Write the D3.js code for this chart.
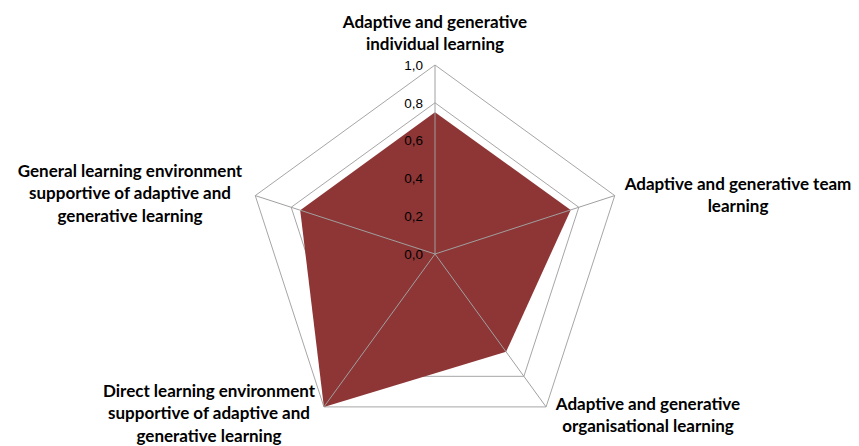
<!DOCTYPE html>
<html>
<head>
<meta charset="utf-8">
<script src="https://cdn.jsdelivr.net/npm/d3@7"></script>
<style>
  body { margin: 0; background: #fff; }
</style>
</head>
<body>
<div id="chart"></div>
<script>
// axis labels (clockwise from top), one array of lines per axis
const categories = [
  ["Adaptive and generative", "individual learning"],
  ["Adaptive and generative team", "learning"],
  ["Adaptive and generative", "organisational learning"],
  ["Direct learning environment", "supportive of adaptive and", "generative learning"],
  ["General learning environment", "supportive of adaptive and", "generative learning"]
];
const values = [0.75, 0.755, 0.64, 1.0, 0.75];
const ticks = [0, 0.2, 0.4, 0.6, 0.8, 1.0];
const tickLabels = ["0,0", "0,2", "0,4", "0,6", "0,8", "1,0"];

const width = 859, height = 446;
const cx = 435, cy = 254, radius = 189;
const fillColor = "#8e3535";

const r = d3.scaleLinear().domain([0, 1]).range([0, radius]);
const angle = d3.scaleLinear().domain([0, categories.length]).range([0, 2 * Math.PI]);

const svg = d3.select("#chart")
  .append("svg")
  .attr("width", width)
  .attr("height", height)
  .attr("viewBox", [0, 0, width, height]);

const g = svg.append("g").attr("transform", `translate(${cx},${cy})`);

const radial = d3.lineRadial()
  .angle((d, i) => angle(i))
  .radius(d => r(d))
  .curve(d3.curveLinearClosed);

// rings
g.append("g")
  .selectAll("path")
  .data(ticks.slice(1))
  .join("path")
  .attr("d", t => radial(categories.map(() => t)))
  .attr("fill", "none")
  .attr("stroke", "#a6a6a6")
  .attr("stroke-width", 1);

// data area
g.append("path")
  .attr("d", radial(values))
  .attr("fill", fillColor);

// spokes (drawn over the fill)
g.append("g")
  .selectAll("line")
  .data(categories)
  .join("line")
  .attr("x1", 0).attr("y1", 0)
  .attr("x2", (d, i) => r(1) * Math.sin(angle(i)))
  .attr("y2", (d, i) => -r(1) * Math.cos(angle(i)))
  .attr("stroke", "#a0a0a0")
  .attr("stroke-width", 1);

// value ticks along the top spoke
g.append("g")
  .selectAll("text")
  .data(ticks)
  .join("text")
  .attr("x", -12)
  .attr("y", t => -r(t))
  .attr("dy", "0.35em")
  .attr("text-anchor", "end")
  .attr("font-family", "Liberation Sans, Arial, sans-serif")
  .attr("font-size", 13.5)
  .attr("fill", "#000")
  .text((t, i) => tickLabels[i]);

// category labels
const labelPos = [
  { x: 435, y: 22 },
  { x: 738, y: 184 },
  { x: 648, y: 404 },
  { x: 209, y: 391 },
  { x: 130, y: 171 }
];
const lineH = 22.5;

svg.append("g")
  .selectAll("text")
  .data(categories)
  .join("text")
  .attr("font-family", "Lato, 'Open Sans', sans-serif")
  .attr("font-weight", "bold")
  .attr("font-size", 17)
  .attr("fill", "#000")
  .attr("text-anchor", "middle")
  .each(function(lines, i) {
    d3.select(this).selectAll("tspan")
      .data(lines)
      .join("tspan")
      .attr("x", labelPos[i].x)
      .attr("y", (l, j) => labelPos[i].y + j * lineH)
      .attr("dy", "0.35em")
      .text(l => l);
  });
</script>
</body>
</html>
